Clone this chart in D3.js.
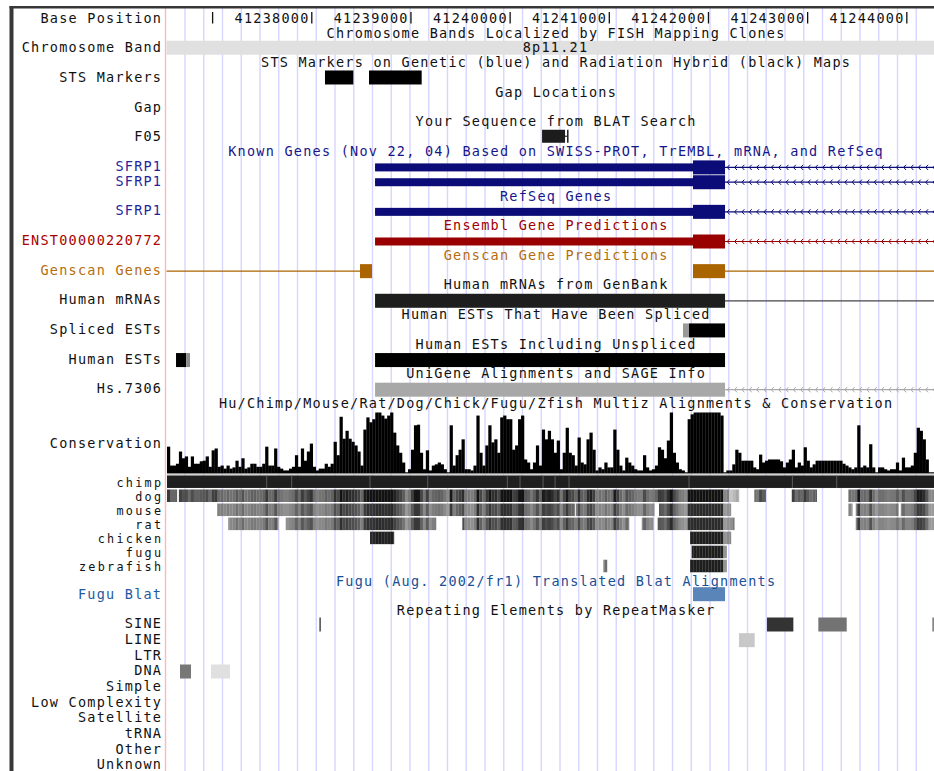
<!DOCTYPE html>
<html>
<head>
<meta charset="utf-8">
<script src="https://cdn.jsdelivr.net/npm/d3@7"></script>
<style>
  html, body { margin: 0; padding: 0; background: #fff; }
  svg { display: block; }
  svg text { font-family: "DejaVu Sans Mono", "Liberation Mono", monospace; font-size: 13.5px; letter-spacing: 1.24px; }
  svg text.tight { font-size: 11.8px; letter-spacing: 2.26px; }
</style>
</head>
<body>
<svg id="browser" width="934" height="771"></svg>
<script>
// ---- Region shown: chr8, around SFRP1 ----
const viewStart = 41236540;
const viewEnd = 41244375;

// Ruler
const rulerTicks = [41237000, 41238000, 41239000, 41240000, 41241000, 41242000, 41243000, 41244000];
const rulerLabels = ["", "41238000", "41239000", "41240000", "41241000", "41242000", "41243000", "41244000"];

// Cytoband
const bandName = "8p11.21";
const bandStart = 41200000, bandEnd = 41700000;

// STS markers and BLAT hit
const stsMarkers = [[41238133, 41238419], [41238577, 41239108]];
const blatBlocks = [[41240322, 41240554], [41240574, 41240589]];

// Gene models (minus strand; the 5' end lies off to the right)
const sfrp1Exons = [[41238638, 41242167], [41246900, 41247200]];
const sfrp1Cds = [41241844, 41247100];
const genscanA = [[41233900, 41234050], [41238486, 41238607]];
const genscanB = [[41241844, 41242167], [41246900, 41247050]];
const mrnaExons = [[41238638, 41242167], [41246900, 41247200]];
const unigeneExons = [[41238638, 41242167], [41246900, 41247200]];

// ESTs: [start, end, shade 0..1]
const splicedEsts = [[41241743, 41241804, 0.4], [41241804, 41242167, 1]];
const humanEsts = [[41236631, 41236735, 1], [41236735, 41236772, 0.45], [41238638, 41242167, 1]];

// Multiz conservation score (percent), one value per 30 bp from viewStart
const consStep = 30;
const conservation = [
  44,13,13,16,36,25,28,11,28,16, 16,20,21,28,11,38,41,11,13,8,
  13,8,10,21,11,25,8,10,16,16, 11,11,16,44,13,13,41,11,8,5,
  5,8,11,30,11,41,21,36,49,11, 5,8,8,16,11,16,52,30,93,57,
  70,57,52,46,36,13,72,92,84,89, 100,100,95,90,95,100,67,46,34,18,
  2,7,39,79,80,34,7,38,5,13, 15,18,15,7,2,79,13,30,39,56,
  7,7,5,13,95,34,13,46,79,51, 56,34,92,95,89,89,39,46,89,95,
  23,18,7,18,46,13,72,56,70,56, 34,54,7,34,75,34,30,13,59,18,
  15,56,67,39,5,10,7,18,10,10, 72,39,13,5,26,18,13,7,5,5,
  30,10,5,7,13,43,39,25,54,100, 34,18,7,5,2,89,97,100,100,100,
  100,100,100,100,100,100,95,2,5,5, 15,39,34,21,21,21,21,10,7,31,
  18,21,23,23,23,23,20,10,18,23, 39,10,18,13,43,21,10,15,21,21,
  21,21,21,21,21,21,21,16,13,10, 7,10,79,10,13,10,48,10,2,10,
  10,7,5,7,7,18,5,26,10,10, 13,34,75,70,56,23,2,2
];

// Pairwise alignment blocks: [start, end, identity]
const chimpBreaks = [41237545, 41237797, 41238587, 41239169, 41239972, 41240100, 41240332, 41240453, 41240594, 41241804, 41242846, 41243293];
const dogAlign = [[41236540, 41236640, 1], [41236660, 41242207, 1], [41242207, 41242308, 0.45], [41242462, 41242577, 1], [41242840, 41243092, 1], [41243411, 41244400, 1]];
const mouseAlign = [[41237047, 41240650, 0.85], [41240662, 41241454, 0.85], [41241501, 41242227, 0.85], [41243411, 41243451, 0.85], [41243485, 41243915, 0.85], [41243939, 41244400, 0.85]];
const ratAlign = [[41237158, 41237662, 0.85], [41237737, 41239253, 0.85], [41239518, 41241199, 0.85], [41241327, 41241444, 0.85], [41241488, 41242261, 0.85], [41243485, 41244400, 0.85]];
const chickenAlign = [[41238587, 41238829, 0.9], [41241814, 41242227, 0.9]];
const fuguAlign = [[41241831, 41242184, 0.9]];
const zebrafishAlign = [[41240940, 41240977, 0.9], [41241814, 41242184, 0.9]];
const speciesNames = ["chimp", "dog", "mouse", "rat", "chicken", "fugu", "zebrafish"];

// Fugu translated BLAT
const fuguBlat = [[41241844, 41242167]];

// RepeatMasker: [class, start, end, score]
const repeatClasses = ["SINE", "LINE", "LTR", "DNA", "Simple", "Low Complexity", "Satellite", "tRNA", "Other", "Unknown"];
const repeats = [
  ["SINE", 41238076, 41238092, 670],
  ["SINE", 41242590, 41242856, 800],
  ["SINE", 41243108, 41243394, 550],
  ["SINE", 41244257, 41244400, 470],
  ["LINE", 41242308, 41242466, 215],
  ["DNA", 41236671, 41236782, 535],
  ["DNA", 41236984, 41237175, 120]
];

// ---- Layout ----
const W = 934, H = 771;
const LS = 1.24;
const dataLeft = 167, dataRight = 944, labelRight = 161 + LS, titleCenter = 555.5 + LS / 2;
const rowBase = k => 22.7 + 14.82 * k;          // text baseline of the k-th upper row
const barY = k => rowBase(k) - 3.5;              // centre of features in that row

const x = d3.scaleLinear().domain([viewStart, viewEnd]).range([dataLeft, dataRight]);
const grayScale = d3.scaleLinear().domain([0, 1]).range([255, 0]);
const gray = v => { const c = Math.round(grayScale(v)); return `rgb(${c},${c},${c})`; };

const svg = d3.select("#browser");
svg.append("rect").attr("width", W).attr("height", H).attr("fill", "#fff");

// guidelines
const guides = svg.append("g");
d3.range(185, W + 1, 18.75).forEach(gx => {
  guides.append("line").attr("x1", gx).attr("x2", gx).attr("y1", 8).attr("y2", H)
    .attr("stroke", "#d6d6ff").attr("stroke-width", 1.4);
});
svg.append("line").attr("x1", 165.5).attr("x2", 165.5).attr("y1", 8).attr("y2", H)
  .attr("stroke", "#ffb8b8").attr("stroke-width", 1.4);

svg.append("clipPath").attr("id", "dataClip")
  .append("rect").attr("x", 166.5).attr("y", 0).attr("width", W - 166.5).attr("height", H);
const data = svg.append("g").attr("clip-path", "url(#dataClip)");
const texts = svg.append("g");

function label(txt, y, color, cls) {
  const t = texts.append("text").attr("x", labelRight).attr("y", y).attr("text-anchor", "end")
    .attr("fill", color || "#111").text(txt);
  if (cls) t.attr("class", cls).attr("x", 161 + 2.26);
}
function title(txt, y, color) {
  texts.append("text").attr("x", titleCenter).attr("y", y).attr("text-anchor", "middle")
    .attr("fill", color || "#111").text(txt);
}
function box(s, e, cy, h, fill) {
  data.append("rect").attr("x", x(s)).attr("width", Math.max(1, x(e) - x(s)))
    .attr("y", cy - h / 2).attr("height", h).attr("fill", fill);
}
function hline(s, e, cy, color) {
  data.append("line").attr("x1", x(s)).attr("x2", x(e)).attr("y1", cy).attr("y2", cy)
    .attr("stroke", color).attr("stroke-width", 1.2);
}
function arrows(px0, px1, cy, color) {
  for (let ax = px0 + 3; ax < px1 - 1; ax += 7.35) {
    data.append("path").attr("d", `M${ax + 1.6},${cy - 2.6}L${ax - 0.8},${cy}L${ax + 1.6},${cy + 2.6}`)
      .attr("fill", "none").attr("stroke", color).attr("stroke-width", 1);
  }
}
function gene(exons, cds, cy, color, withArrows) {
  const t0 = exons[0][0], t1 = exons[exons.length - 1][1];
  hline(t0, t1, cy, color);
  if (withArrows) {
    for (let i = 0; i < exons.length - 1; i++) arrows(x(exons[i][1]), Math.min(W + 10, x(exons[i + 1][0])), cy, color);
  }
  exons.forEach(([s, e]) => {
    const cs = Math.max(s, cds[0]), ce = Math.min(e, cds[1]);
    if (ce > cs) {
      if (cs > s) box(s, cs, cy, 8, color);
      if (e > ce) box(ce, e, cy, 8, color);
      box(cs, ce, cy, 14, color);
    } else {
      box(s, e, cy, 8, color);
    }
  });
}

// ---- Ruler ----
label("Base Position", rowBase(0));
rulerTicks.forEach((t, i) => {
  data.append("line").attr("x1", x(t)).attr("x2", x(t)).attr("y1", 12).attr("y2", 23.5)
    .attr("stroke", "#111").attr("stroke-width", 1.3);
  if (rulerLabels[i]) {
    texts.append("text").attr("x", x(t) - 3.5 + LS).attr("y", rowBase(0)).attr("text-anchor", "end")
      .attr("fill", "#111").text(rulerLabels[i]);
  }
});

// ---- Chromosome band ----
title("Chromosome Bands Localized by FISH Mapping Clones", rowBase(1));
label("Chromosome Band", rowBase(2));
box(bandStart, bandEnd, rowBase(2) - 4.5, 14, "#e0e0e0");
texts.append("text").attr("x", (x(Math.max(bandStart, viewStart)) + x(Math.min(bandEnd, viewEnd))) / 2)
  .attr("y", rowBase(2)).attr("text-anchor", "middle").attr("fill", "#111").text(bandName);

// ---- STS ----
title("STS Markers on Genetic (blue) and Radiation Hybrid (black) Maps", rowBase(3));
label("STS Markers", rowBase(4));
stsMarkers.forEach(([s, e]) => box(s, e, barY(4) - 1, 14, "#000"));

// ---- Gap ----
title("Gap Locations", rowBase(5));
label("Gap", rowBase(6));

// ---- BLAT ----
title("Your Sequence from BLAT Search", rowBase(7));
label("F05", rowBase(8));
hline(blatBlocks[0][1], blatBlocks[1][0], barY(8) - 1.5, "#222");
box(blatBlocks[0][0], blatBlocks[0][1], barY(8) - 1.5, 13, "#1c1c1c");
box(blatBlocks[1][0], blatBlocks[1][1], barY(8) - 1.5, 13, "#1c1c1c");

// ---- Known genes / RefSeq ----
const navy = "#0c0c78";
title("Known Genes (Nov 22, 04) Based on SWISS-PROT, TrEMBL, mRNA, and RefSeq", rowBase(9), "#16168a");
label("SFRP1", rowBase(10), "#24249a");
label("SFRP1", rowBase(11), "#24249a");
gene(sfrp1Exons, sfrp1Cds, barY(10), navy, true);
gene(sfrp1Exons, sfrp1Cds, barY(11), navy, true);
title("RefSeq Genes", rowBase(12), "#16168a");
label("SFRP1", rowBase(13), "#24249a");
gene(sfrp1Exons, sfrp1Cds, barY(13), navy, true);

// ---- Ensembl ----
title("Ensembl Gene Predictions", rowBase(14), "#a00000");
label("ENST00000220772", rowBase(15), "#a80000");
gene(sfrp1Exons, sfrp1Cds, barY(15), "#990000", true);

// ---- Genscan ----
const genscanColor = "#aa6400";
title("Genscan Gene Predictions", rowBase(16), "#b56d0c");
label("Genscan Genes", rowBase(17), "#b56d0c");
gene(genscanA, [genscanA[0][0], genscanA[1][1]], barY(17), genscanColor, false);
gene(genscanB, [genscanB[0][0], genscanB[1][1]], barY(17), genscanColor, false);

// ---- mRNA ----
title("Human mRNAs from GenBank", rowBase(18));
label("Human mRNAs", rowBase(19));
hline(mrnaExons[0][0], mrnaExons[1][1], barY(19), "#444");
mrnaExons.forEach(([s, e]) => box(s, e, barY(19), 14, "#1e1e1e"));

// ---- ESTs ----
title("Human ESTs That Have Been Spliced", rowBase(20));
label("Spliced ESTs", rowBase(21));
splicedEsts.forEach(([s, e, v]) => box(s, e, barY(21), 14, gray(v)));
title("Human ESTs Including Unspliced", rowBase(22));
label("Human ESTs", rowBase(23));
humanEsts.forEach(([s, e, v]) => box(s, e, barY(23), 14, gray(v)));

// ---- UniGene ----
title("UniGene Alignments and SAGE Info", rowBase(24));
label("Hs.7306", rowBase(25));
gene(unigeneExons, [unigeneExons[0][0], unigeneExons[1][1]], barY(25), "#a8a8a8", true);

// ---- Conservation histogram ----
title("Hu/Chimp/Mouse/Rat/Dog/Chick/Fugu/Zfish Multiz Alignments & Conservation", rowBase(26));
const consBase = 473.5, consTop = 412.5;
const consY = d3.scaleLinear().domain([0, 100]).range([consBase, consTop]);
label("Conservation", 447.7);
data.append("g").selectAll("rect").data(conservation).join("rect")
  .attr("x", (d, i) => x(viewStart + i * consStep))
  .attr("width", x(viewStart + consStep) - x(viewStart) + 0.25)
  .attr("y", d => consY(d))
  .attr("height", d => consBase - consY(d))
  .attr("fill", "#000");
data.append("line").attr("x1", dataLeft).attr("x2", W).attr("y1", consBase + 0.8).attr("y2", consBase + 0.8)
  .attr("stroke", "#c8c8c8").attr("stroke-width", 1);

// species rows
const speciesBase = j => 486.7 + 14.05 * j;
const speciesCy = j => speciesBase(j) - 5;
speciesNames.forEach((n, j) => label(n, speciesBase(j), "#111", "tight"));

box(viewStart, viewEnd + 200, speciesCy(0), 12.5, "#1f1f1f");
chimpBreaks.forEach(b => {
  data.append("line").attr("x1", x(b)).attr("x2", x(b)).attr("y1", speciesCy(0) - 6.2).attr("y2", speciesCy(0) + 6.2)
    .attr("stroke", "#5c5c5c").attr("stroke-width", 1);
});

function alignRow(blocks, j) {
  const cy = speciesCy(j);
  blocks.forEach(([s, e, id]) => {
    conservation.forEach((c, i) => {
      const b0 = viewStart + i * consStep, b1 = b0 + consStep;
      const s0 = Math.max(s, b0), e0 = Math.min(e, b1);
      if (e0 <= s0) return;
      const dark = Math.min(0.93, id * (0.38 + 0.6 * Math.sqrt(c / 100)));
      data.append("rect").attr("x", x(s0)).attr("width", x(e0) - x(s0) + 0.2)
        .attr("y", cy - 6.25).attr("height", 12.5).attr("fill", gray(dark));
    });
  });
}
alignRow(dogAlign, 1);
alignRow(mouseAlign, 2);
alignRow(ratAlign, 3);
alignRow(chickenAlign, 4);
alignRow(fuguAlign, 5);
alignRow(zebrafishAlign, 6);

// ---- Fugu BLAT ----
title("Fugu (Aug. 2002/fr1) Translated Blat Alignments", 585.5, "#1a4f94");
label("Fugu Blat", 598.6, "#1f5aa0");
fuguBlat.forEach(([s, e]) => box(s, e, 594.2, 14, "#5a85b8"));

// ---- RepeatMasker ----
title("Repeating Elements by RepeatMasker", 615);
const repBase = m => 628.3 + 15.67 * m;
repeatClasses.forEach((c, m) => label(c, repBase(m)));
repeats.forEach(([cls, s, e, score]) => {
  const m = repeatClasses.indexOf(cls);
  box(s, e, repBase(m) - 3.8, 14, gray(score / 1000));
});

// ---- frame ----
svg.append("rect").attr("x", 9.5).attr("y", 6).attr("width", 4).attr("height", H - 6).attr("fill", "#383838");
svg.append("rect").attr("x", 9.5).attr("y", 6).attr("width", W - 9.5).attr("height", 2.5).attr("fill", "#383838");
</script>
</body>
</html>
